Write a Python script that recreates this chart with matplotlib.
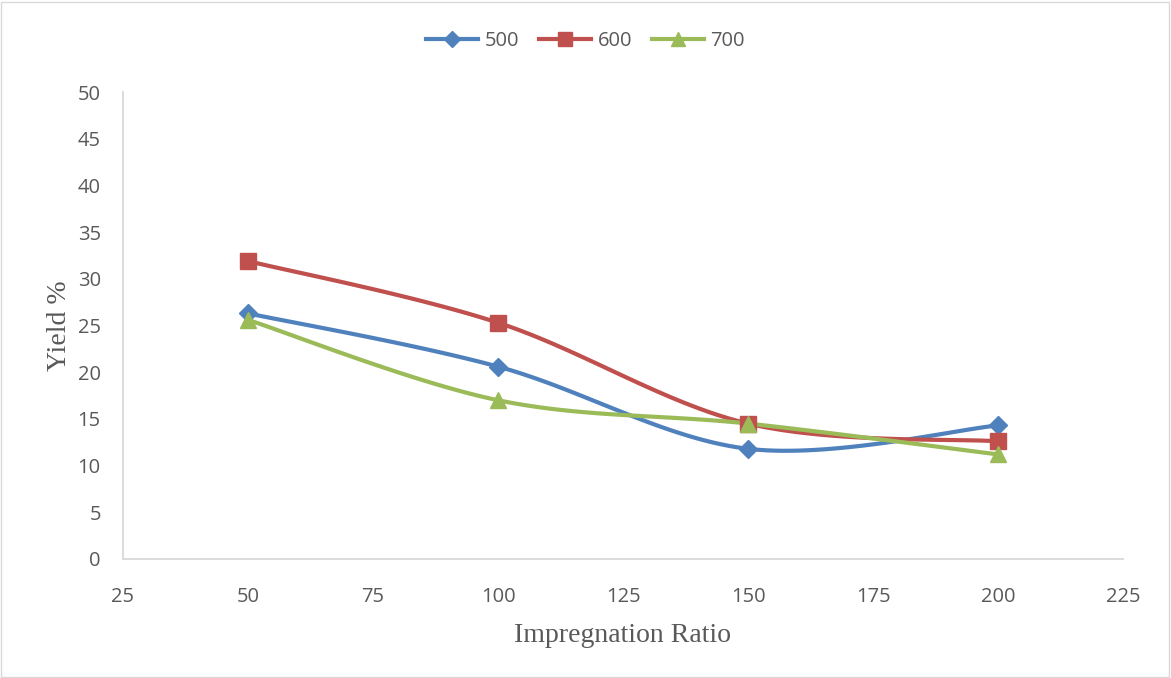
import numpy as np
import matplotlib
matplotlib.use("Agg")
import matplotlib.pyplot as plt
from matplotlib.patches import Rectangle

ratios = [50, 100, 150, 200]
y500 = [26.3, 20.6, 11.8, 14.3]
y600 = [31.9, 25.3, 14.5, 12.6]
y700 = [25.6, 17.0, 14.5, 11.2]
series_labels = ["500", "600", "700"]
colors = ["#4F81BD", "#C0504D", "#9BBB59"]
markers = ["D", "s", "^"]
msizes = [9.5, 11.5, 11.5]

W, H = 1171, 678
fig = plt.figure(figsize=(W / 100, H / 100), dpi=100)
fig.patch.set_facecolor("white")
ax = fig.add_axes([123 / W, (H - 559) / H, 1000 / W, 467 / H])

ax.set_xlim(25, 225)
ax.set_ylim(0, 50)
ax.set_xticks(np.arange(25, 226, 25))
ax.set_yticks(np.arange(0, 51, 5))

def smooth(xs, ys, n=40):
    pts = ax.transData.transform(np.column_stack([xs, ys]))
    out = []
    m = len(pts)
    for i in range(m - 1):
        p0 = pts[i - 1] if i > 0 else pts[i]
        p1 = pts[i]
        p2 = pts[i + 1]
        p3 = pts[i + 2] if i + 2 < m else pts[i + 1]
        c1 = p1 + (p2 - p0) / 6.0
        c2 = p2 - (p3 - p1) / 6.0
        t = np.linspace(0, 1, n)[:, None]
        seg = ((1 - t) ** 3) * p1 + 3 * ((1 - t) ** 2) * t * c1 + 3 * (1 - t) * t ** 2 * c2 + t ** 3 * p2
        out.append(seg if i == 0 else seg[1:])
    curve = np.vstack(out)
    d = ax.transData.inverted().transform(curve)
    return d[:, 0], d[:, 1]

for ys, lab, c, mk, ms in zip([y500, y600, y700], series_labels, colors, markers, msizes):
    sx, sy = smooth(ratios, ys)
    ax.plot(sx, sy, color=c, lw=3.0, solid_capstyle="round", zorder=2)
    ax.plot(ratios, ys, linestyle="none", marker=mk, markersize=ms, color=c, zorder=3)
    ax.plot([], [], color=c, lw=3.0, marker=mk, markersize=ms * 0.85, label=lab)

for s in ["top", "right"]:
    ax.spines[s].set_visible(False)
for s in ["left", "bottom"]:
    ax.spines[s].set_color("#D9D9D9")
    ax.spines[s].set_linewidth(1.3)
ax.tick_params(length=0, labelsize=14.5, labelcolor="#595959")
ax.tick_params(axis="x", pad=20)
ax.tick_params(axis="y", pad=16)
for lbl in ax.get_xticklabels() + ax.get_yticklabels():
    lbl.set_fontfamily("Open Sans")

ax.set_xlabel("Impregnation Ratio", fontfamily="Liberation Serif", fontsize=20, color="#595959", labelpad=12)
ax.set_ylabel("Yield %", fontfamily="Liberation Serif", fontsize=20, color="#595959", labelpad=4)

leg = fig.legend(loc="center", bbox_to_anchor=(0.5, 1 - 41 / H), ncol=3, frameon=False,
                 prop={"family": "Open Sans", "size": 14.5}, handlelength=2.6, columnspacing=1.0,
                 handletextpad=0.3, labelcolor="#595959")

fig.add_artist(Rectangle((1 / W, 1 / H), 1 - 3 / W, 1 - 3 / H, transform=fig.transFigure,
                         fill=False, edgecolor="#D9D9D9", lw=1))

fig.savefig("out.png", dpi=100)
